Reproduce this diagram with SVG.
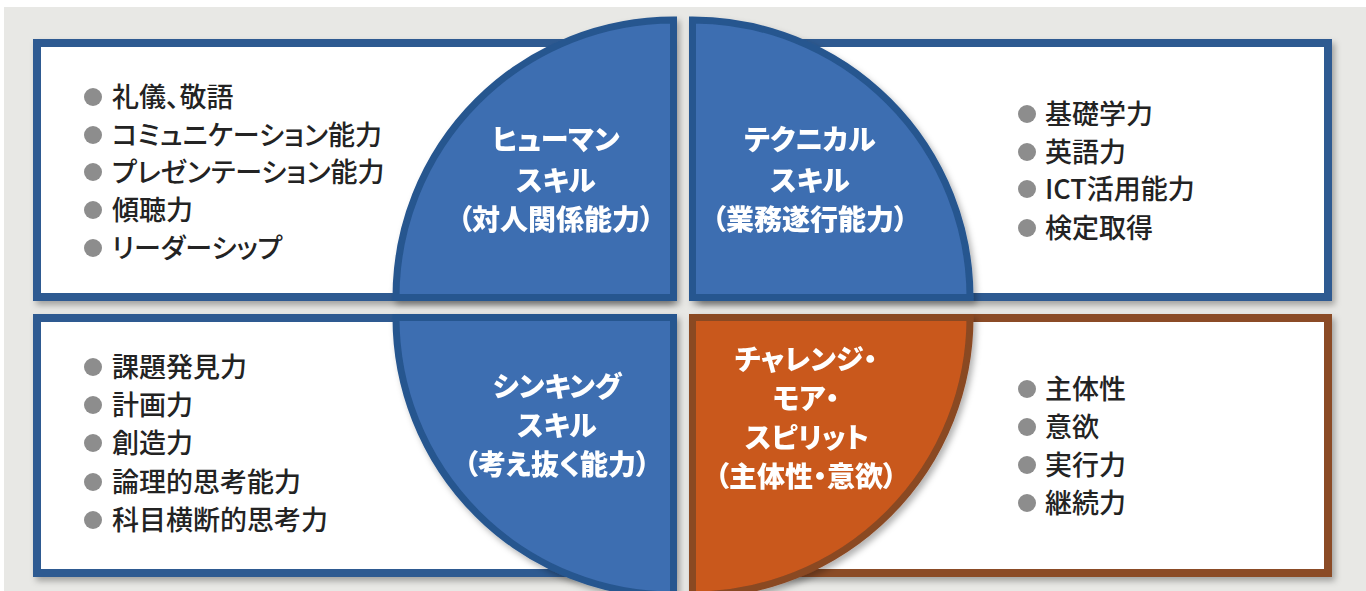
<svg xmlns="http://www.w3.org/2000/svg" width="1366" height="591" viewBox="0 0 1366 591">
<defs>
<filter id="sh" x="-10%" y="-10%" width="125%" height="125%">
<feDropShadow dx="3" dy="4" stdDeviation="3" flood-color="#000" flood-opacity="0.3"/>
</filter>
<style>
.box{fill:#fff;stroke:#2f5a91;stroke-width:8}
.boxb{fill:#fff;stroke:#8b4c26;stroke-width:8}
.q{fill:#3d6eb1;stroke:#27568f;stroke-width:7;stroke-linejoin:miter}
.qo{fill:#c9581b;stroke:#8a4824;stroke-width:7;stroke-linejoin:miter}
.item{font-family:"Noto Sans CJK JP","Noto Sans",sans-serif;font-size:27px;font-weight:500;fill:#232323;font-feature-settings:"palt"}
.lab{font-family:"Noto Sans CJK JP","Noto Sans",sans-serif;font-size:28px;font-weight:900;fill:#fff;text-anchor:middle;font-feature-settings:"palt"}
.dot{fill:#8d8d8d}
</style>
</defs>
<rect x="0" y="0" width="1366" height="591" fill="#fff"/>
<rect x="4" y="7" width="1362" height="584" fill="#e8e8e5"/>

<g id="box-human" filter="url(#sh)">
<rect class="box" x="37" y="43" width="630" height="254"/>
</g>
<g id="box-technical" filter="url(#sh)">
<rect class="box" x="700" y="43" width="628" height="254"/>
</g>
<g id="box-thinking" filter="url(#sh)">
<rect class="box" x="37" y="318" width="630" height="255"/>
</g>
<g id="box-challenge" filter="url(#sh)">
<rect class="boxb" x="700" y="318" width="628" height="255"/>
</g>

<g id="quad-human" filter="url(#sh)">
<path class="q" d="M673.5,297.5 L396,297.5 A277.5,277.5 0 0 1 673.5,20 Z"/>
<text class="lab" x="556" y="150">ヒューマン</text>
<text class="lab" x="556" y="191">スキル</text>
<text class="lab" x="556" y="230">（対人関係能力）</text>
</g>
<g id="quad-technical" filter="url(#sh)">
<path class="q" d="M692.5,297.5 L692.5,20 A277.5,277.5 0 0 1 970,297.5 Z"/>
<text class="lab" x="810" y="150">テクニカル</text>
<text class="lab" x="810" y="191">スキル</text>
<text class="lab" x="810" y="230">（業務遂行能力）</text>
</g>
<g id="quad-thinking" filter="url(#sh)">
<path class="q" d="M673.5,317.5 L673.5,595 A277.5,277.5 0 0 1 396,317.5 Z"/>
<text class="lab" x="557" y="397">シンキング</text>
<text class="lab" x="557" y="436">スキル</text>
<text class="lab" x="557" y="475">（考え抜く能力）</text>
</g>
<g id="quad-challenge" filter="url(#sh)">
<path class="qo" d="M692.5,317.5 L970,317.5 A277.5,277.5 0 0 1 692.5,595 Z"/>
<text class="lab" x="806" y="370">チャレンジ・</text>
<text class="lab" x="806" y="409">モア・</text>
<text class="lab" x="807" y="448">スピリット</text>
<text class="lab" x="806" y="487">（主体性・意欲）</text>
</g>

<g id="list-human">
<circle class="dot" cx="93" cy="97" r="9"/><text class="item" x="112" y="107">礼儀、敬語</text>
<circle class="dot" cx="93" cy="135" r="9"/><text class="item" x="112" y="145">コミュニケーション能力</text>
<circle class="dot" cx="93" cy="172" r="9"/><text class="item" x="112" y="182">プレゼンテーション能力</text>
<circle class="dot" cx="93" cy="210" r="9"/><text class="item" x="112" y="220">傾聴力</text>
<circle class="dot" cx="93" cy="248" r="9"/><text class="item" x="112" y="258">リーダーシップ</text>
</g>
<g id="list-technical">
<circle class="dot" cx="1027" cy="114" r="9"/><text class="item" x="1045" y="124">基礎学力</text>
<circle class="dot" cx="1027" cy="152" r="9"/><text class="item" x="1045" y="162">英語力</text>
<circle class="dot" cx="1027" cy="189" r="9"/><text class="item" x="1045" y="199">ICT活用能力</text>
<circle class="dot" cx="1027" cy="228" r="9"/><text class="item" x="1045" y="238">検定取得</text>
</g>
<g id="list-thinking">
<circle class="dot" cx="93" cy="367" r="9"/><text class="item" x="112" y="377">課題発見力</text>
<circle class="dot" cx="93" cy="405" r="9"/><text class="item" x="112" y="415">計画力</text>
<circle class="dot" cx="93" cy="443" r="9"/><text class="item" x="112" y="453">創造力</text>
<circle class="dot" cx="93" cy="482" r="9"/><text class="item" x="112" y="492">論理的思考能力</text>
<circle class="dot" cx="93" cy="520" r="9"/><text class="item" x="112" y="530">科目横断的思考力</text>
</g>
<g id="list-challenge">
<circle class="dot" cx="1027" cy="389" r="9"/><text class="item" x="1045" y="399">主体性</text>
<circle class="dot" cx="1027" cy="427" r="9"/><text class="item" x="1045" y="437">意欲</text>
<circle class="dot" cx="1027" cy="465" r="9"/><text class="item" x="1045" y="475">実行力</text>
<circle class="dot" cx="1027" cy="503" r="9"/><text class="item" x="1045" y="513">継続力</text>
</g>
<g id="connectors"/>
</svg>
